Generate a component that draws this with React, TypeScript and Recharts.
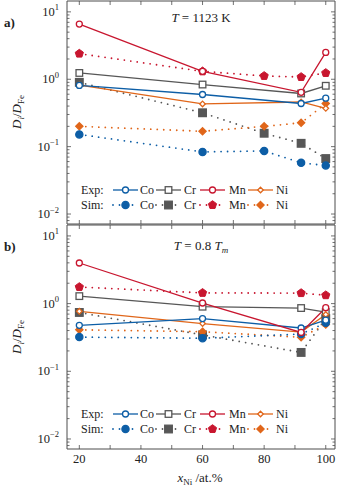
import { LineChart, Line, XAxis, YAxis } from 'recharts';

// Ni content (at.%) at which the diffusivities were evaluated
const xNi = [20, 60, 80, 92, 100];

// a) T = 1123 K, D_i / D_Fe
const expCoA = [0.81, 0.594, null, 0.437, 0.524];
const expCrA = [1.24, 0.835, null, 0.615, 0.8];
const expMnA = [6.6, 1.31, null, 0.64, 2.5];
const expNiA = [0.82, 0.43, null, 0.46, 0.37];
const simCoA = [0.152, 0.0835, 0.0865, 0.0575, 0.0525];
const simCrA = [0.9, 0.318, 0.158, 0.112, 0.0665];
const simMnA = [2.4, 1.31, 1.12, 1.08, 1.24];
const simNiA = [0.2, 0.169, 0.2, 0.226, 0.437];

// b) T = 0.8 Tm
const expCoB = [0.478, 0.6, null, 0.436, 0.57];
const expCrB = [1.29, 0.9, null, 0.86, 0.75];
const expMnB = [3.98, 1.02, null, 0.375, 0.87];
const expNiB = [0.77, 0.507, null, 0.38, 0.69];
const simCoB = [0.32, 0.308, null, 0.355, 0.52];
const simCrB = [0.74, 0.345, null, 0.19, 0.6];
const simMnB = [1.76, 1.44, null, 1.43, 1.33];
const simNiB = [0.41, 0.385, null, 0.318, 0.49];

const xTicks = [20, 30, 40, 50, 60, 70, 80, 90, 100];
const yTicks = [0.008, 0.009, 0.01, 0.02, 0.03, 0.04, 0.05, 0.06, 0.07, 0.08, 0.09, 0.1, 0.2, 0.3, 0.4, 0.5, 0.6, 0.7, 0.8, 0.9, 1, 2, 3, 4, 5, 6, 7, 8, 9, 10];

const FONT = "'Liberation Serif', 'DejaVu Serif', serif";
const FRAME = '#4d4d4d';
const BLUE = '#0d5ea6';
const GREY = '#575757';
const RED = '#c8162f';
const ORANGE = '#e0661a';

const Y_DOMAIN = [0.00711, 14.5];
const X_DOMAIN = [16, 103];

type Shape = 'circle' | 'square' | 'pentagon' | 'diamond';

const seriesDefs = [
  { key: 'simCr', color: GREY, sim: true, shape: 'square' as Shape },
  { key: 'simNi', color: ORANGE, sim: true, shape: 'diamond' as Shape },
  { key: 'simCo', color: BLUE, sim: true, shape: 'circle' as Shape },
  { key: 'simMn', color: RED, sim: true, shape: 'pentagon' as Shape },
  { key: 'expCr', color: GREY, sim: false, shape: 'square' as Shape },
  { key: 'expNi', color: ORANGE, sim: false, shape: 'diamond' as Shape },
  { key: 'expCo', color: BLUE, sim: false, shape: 'circle' as Shape },
  { key: 'expMn', color: RED, sim: false, shape: 'circle' as Shape },
];

function buildRows(cols: Record<string, (number | null)[]>) {
  return xNi.map((x, i) => {
    const row: Record<string, number | null> = { x };
    Object.keys(cols).forEach((k) => {
      row[k] = cols[k][i];
    });
    return row;
  });
}

const rowsA = buildRows({
  expCo: expCoA, expCr: expCrA, expMn: expMnA, expNi: expNiA,
  simCo: simCoA, simCr: simCrA, simMn: simMnA, simNi: simNiA,
});
const rowsB = buildRows({
  expCo: expCoB, expCr: expCrB, expMn: expMnB, expNi: expNiB,
  simCo: simCoB, simCr: simCrB, simMn: simMnB, simNi: simNiB,
});

function Marker({ cx, cy, shape, color, filled }: { cx: number; cy: number; shape: Shape; color: string; filled: boolean }) {
  const fill = filled ? color : '#fff';
  const sw = 1.3;
  if (shape === 'square') {
    const h = filled ? 3.8 : 3.3;
    return <rect x={cx - h} y={cy - h} width={2 * h} height={2 * h} fill={fill} stroke={color} strokeWidth={sw} />;
  }
  if (shape === 'diamond') {
    const h = filled ? 3.6 : 2.8;
    return <polygon points={`${cx},${cy - h} ${cx + h},${cy} ${cx},${cy + h} ${cx - h},${cy}`} fill={fill} stroke={color} strokeWidth={sw} />;
  }
  if (shape === 'pentagon') {
    const r = 4.3;
    const pts = [0, 1, 2, 3, 4]
      .map((k) => {
        const a = -Math.PI / 2 + (k * 2 * Math.PI) / 5;
        return `${cx + r * Math.cos(a)},${cy + r * Math.sin(a)}`;
      })
      .join(' ');
    return <polygon points={pts} fill={fill} stroke={color} strokeWidth={1} />;
  }
  return <circle cx={cx} cy={cy} r={filled ? 3.6 : 3} fill={fill} stroke={color} strokeWidth={sw} />;
}

function XTick(props: any) {
  const { x, y, payload, dir, showLabel } = props;
  const v = payload.value;
  return (
    <g>
      <line x1={x} x2={x} y1={y} y2={y + dir * 4} stroke={FRAME} strokeWidth={0.8} />
      {showLabel && v % 20 === 0 ? (
        <text x={x} y={y + 14} textAnchor="middle" fontSize={12.5} fontFamily={FONT} fill="#222">
          {v}
        </text>
      ) : null}
    </g>
  );
}

function YTick(props: any) {
  const { x, y, payload, dir, showLabel } = props;
  const lg = Math.log10(payload.value);
  const e = Math.round(lg);
  const major = Math.abs(lg - e) < 1e-6;
  const len = major ? 4 : 2.5;
  return (
    <g>
      <line x1={x} x2={x + dir * len} y1={y} y2={y} stroke={FRAME} strokeWidth={0.8} />
      {showLabel && major ? (
        <text x={x - 8} y={y + 4} textAnchor="end" fontSize={12.5} fontFamily={FONT} fill="#222">
          10
          <tspan dy={-5.5} fontSize={8.5}>{e < 0 ? `\u2212${-e}` : `${e}`}</tspan>
        </text>
      ) : null}
    </g>
  );
}

function Panel({ rows, height, bottom, xLabels }: { rows: any[]; height: number; bottom: number; xLabels: boolean }) {
  return (
    <LineChart width={339} height={height} data={rows} margin={{ top: 0, right: 3, bottom, left: 66 }}>
      <XAxis
        dataKey="x"
        type="number"
        domain={X_DOMAIN}
        allowDataOverflow
        ticks={xTicks}
        interval={0}
        height={1}
        tickSize={0}
        tickMargin={0}
        tickLine={false}
        axisLine={{ stroke: FRAME, strokeWidth: 1 }}
        tick={(p: any) => <XTick {...p} dir={-1} showLabel={xLabels} />}
      />
      <XAxis
        xAxisId="top"
        orientation="top"
        dataKey="x"
        type="number"
        domain={X_DOMAIN}
        allowDataOverflow
        ticks={xTicks}
        interval={0}
        height={1}
        tickSize={0}
        tickMargin={0}
        tickLine={false}
        axisLine={{ stroke: FRAME, strokeWidth: 1 }}
        tick={(p: any) => <XTick {...p} dir={1} showLabel={false} />}
      />
      <YAxis
        type="number"
        scale="log"
        domain={Y_DOMAIN}
        allowDataOverflow
        ticks={yTicks}
        interval={0}
        width={1}
        tickSize={0}
        tickMargin={0}
        tickLine={false}
        axisLine={{ stroke: FRAME, strokeWidth: 1 }}
        tick={(p: any) => <YTick {...p} dir={1} showLabel />}
      />
      <YAxis
        yAxisId="right"
        orientation="right"
        type="number"
        scale="log"
        domain={Y_DOMAIN}
        allowDataOverflow
        ticks={yTicks}
        interval={0}
        width={1}
        tickSize={0}
        tickMargin={0}
        tickLine={false}
        axisLine={{ stroke: FRAME, strokeWidth: 1 }}
        tick={(p: any) => <YTick {...p} dir={-1} showLabel={false} />}
      />
      {seriesDefs.map((s) => (
        <Line
          key={s.key}
          dataKey={s.key}
          type="linear"
          connectNulls
          isAnimationActive={false}
          stroke={s.color}
          strokeWidth={s.sim ? 1.8 : 1.3}
          strokeDasharray={s.sim ? '0 6.5' : undefined}
          strokeLinecap={s.sim ? 'round' : 'butt'}
          dot={(p: any) =>
            p.cx == null || p.cy == null || p.value == null ? (
              <g key={`${s.key}-${p.index}`} />
            ) : (
              <Marker key={`${s.key}-${p.index}`} cx={p.cx} cy={p.cy} shape={s.shape} color={s.color} filled={s.sim} />
            )
          }
          activeDot={false}
        />
      ))}
    </LineChart>
  );
}

const legendEntries = [
  { name: 'Co', color: BLUE, expShape: 'circle' as Shape, simShape: 'circle' as Shape, lx: 113, tx: 140 },
  { name: 'Cr', color: GREY, expShape: 'square' as Shape, simShape: 'square' as Shape, lx: 156, tx: 184 },
  { name: 'Mn', color: RED, expShape: 'circle' as Shape, simShape: 'pentagon' as Shape, lx: 200, tx: 229 },
  { name: 'Ni', color: ORANGE, expShape: 'diamond' as Shape, simShape: 'diamond' as Shape, lx: 248, tx: 276 },
];

function LegendBlock({ y }: { y: number }) {
  const rows = [
    { label: 'Exp:', sim: false, cy: y },
    { label: 'Sim:', sim: true, cy: y + 15 },
  ];
  return (
    <g fontFamily={FONT} fontSize={12} fill="#222">
      {rows.map((r) => (
        <g key={r.label}>
          <text x={81} y={r.cy + 4}>{r.label}</text>
          {legendEntries.map((e) => (
            <g key={e.name}>
              <line
                x1={e.lx}
                x2={e.lx + 25}
                y1={r.cy}
                y2={r.cy}
                stroke={e.color}
                strokeWidth={r.sim ? 1.8 : 1.3}
                strokeDasharray={r.sim ? '0 6.5' : undefined}
                strokeLinecap={r.sim ? 'round' : 'butt'}
              />
              <Marker cx={e.lx + 12.5} cy={r.cy} shape={r.sim ? e.simShape : e.expShape} color={e.color} filled={r.sim} />
              <text x={e.tx} y={r.cy + 4}>{e.name}</text>
            </g>
          ))}
        </g>
      ))}
    </g>
  );
}

function YLabel({ cy }: { cy: number }) {
  return (
    <text transform={`rotate(-90 21 ${cy})`} x={21} y={cy} textAnchor="middle" fontFamily={FONT} fontSize={13} fill="#222">
      <tspan fontStyle="italic">D</tspan>
      <tspan fontStyle="italic" fontSize={9} dy={3}>i</tspan>
      <tspan dy={-3}>/</tspan>
      <tspan fontStyle="italic">D</tspan>
      <tspan fontSize={9} dy={3}>Fe</tspan>
    </text>
  );
}

export default function App() {
  return (
    <div style={{ position: 'absolute', left: 0, top: 0, width: 339, height: 491, background: '#fff' }}>
      <div style={{ position: 'absolute', left: 0, top: 0 }}>
        <Panel rows={rowsA} height={225} bottom={0} xLabels={false} />
      </div>
      <div style={{ position: 'absolute', left: 0, top: 224 }}>
        <Panel rows={rowsB} height={267} bottom={41} xLabels />
      </div>
      <svg width={339} height={491} style={{ position: 'absolute', left: 0, top: 0, pointerEvents: 'none' }}>
        <text x={4} y={27} fontFamily={FONT} fontSize={13} fontWeight="bold" fill="#222">a)</text>
        <text x={4} y={251} fontFamily={FONT} fontSize={13} fontWeight="bold" fill="#222">b)</text>
        <text x={201} y={22} textAnchor="middle" fontFamily={FONT} fontSize={13} fill="#222">
          <tspan fontStyle="italic">T</tspan> = 1123 K
        </text>
        <text x={201} y={250} textAnchor="middle" fontFamily={FONT} fontSize={13} fill="#222">
          <tspan fontStyle="italic">T</tspan> = 0.8 <tspan fontStyle="italic">T</tspan>
          <tspan fontStyle="italic" fontSize={9} dy={3}>m</tspan>
        </text>
        <YLabel cy={112} />
        <YLabel cy={337} />
        <text x={200} y={482} textAnchor="middle" fontFamily={FONT} fontSize={13} fill="#222">
          <tspan fontStyle="italic">x</tspan>
          <tspan fontSize={9} dy={3}>Ni</tspan>
          <tspan dy={-3}> /at.%</tspan>
        </text>
        <LegendBlock y={190} />
        <LegendBlock y={414} />
      </svg>
    </div>
  );
}
